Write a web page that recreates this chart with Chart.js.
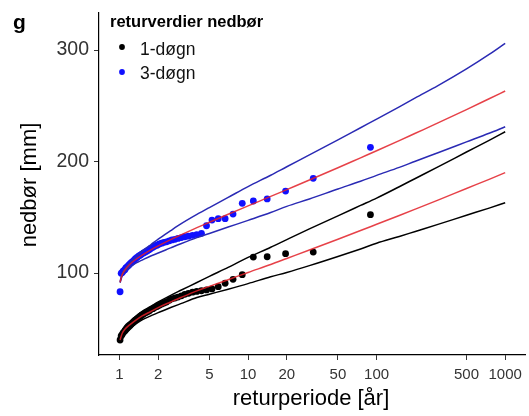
<!DOCTYPE html>
<html>
<head>
<meta charset="utf-8">
<script src="https://cdn.jsdelivr.net/npm/chart.js@4.4.1/dist/chart.umd.min.js"></script>
<style>
  html, body { margin: 0; padding: 0; background: #fff; }
  #wrap { width: 529px; height: 416px; }
</style>
</head>
<body>
<div id="wrap"><canvas id="c" width="529" height="416"></canvas></div>
<script>
// ---- data ----
const panelLabel = 'g';
const legendTitle = 'returverdier nedbør';
const seriesNames = ['1-døgn', '3-døgn'];
const xTitle = 'returperiode [år]';
const yTitle = 'nedbør [mm]';
const xTicks = [1, 2, 5, 10, 20, 50, 100, 500, 1000];
const yTicks = [100, 200, 300];

// return periods of the observed values (plotting positions)
const returnPeriods = [1.01,1.03,1.05,1.07,1.10,1.12,1.15,1.18,1.21,1.24,1.27,1.30,1.33,1.37,1.41,1.45,1.49,1.54,1.59,1.64,1.70,1.75,1.82,1.89,1.96,2.04,2.13,2.22,2.32,2.44,2.56,2.70,2.85,3.03,3.22,3.44,3.70,3.99,4.34,4.75,5.24,5.86,6.63,7.64,9.01,10.99,14.08,19.58,32.13,89.50];
const obs1dogn = [39.9,43.5,45.0,46.6,48.0,49.2,50.5,51.8,53.0,54.3,55.4,56.5,57.8,58.9,60.0,61.0,62.1,63.2,64.3,65.0,66.0,67.2,68.0,69.2,70.0,71.0,72.2,73.1,74.0,75.6,76.8,77.6,78.4,79.5,80.9,81.8,82.8,83.5,84.1,84.8,85.7,87.7,90.8,94.3,98.5,114.3,114.6,117.3,118.8,152.3];
const obs3dogn = [83.2,99.7,100.5,101.8,103.0,104.5,105.8,107.0,108.3,109.5,110.5,111.5,112.8,114.0,115.2,116.0,117.0,118.0,118.9,119.8,120.8,122.0,123.0,124.2,125.0,126.0,126.8,127.5,128.0,128.9,129.7,130.2,131.0,131.8,132.5,133.0,133.8,134.5,135.6,142.4,147.5,148.7,148.7,152.9,162.5,164.6,166.4,173.5,184.9,212.7];

// fitted return-value curves and their confidence bands
const curveT = [1.01,1.05,1.1,1.2,1.35,1.5,1.75,2,2.5,3,4,5,7,10,15,20,30,50,75,100,150,200,300,500,750,1000];
const fit1 = [40,46,49.5,53.5,58,61.5,65.5,69,74,78,84,88,94,100.5,107.6,113.0,120.6,130.3,138.1,143.7,151.6,157.3,165.4,175.8,184.0,190.0];
const upper1 = [42,48.5,52.5,56.5,61.5,65.5,70,74,80,84.5,91.5,97,105,114,123.1,130,139.6,151.3,160.6,167.2,177.4,184.8,195.2,208.5,219,226.7];
const lower1 = [38,43.5,46.5,50.5,54.5,58,61.5,64.5,69,72.5,78,81,85.5,90.5,96.6,100.5,106.6,114.8,121.6,126.7,132.8,137.3,143.6,151.8,158.2,163];
const fit3 = [91.7,98.6,102.6,107.6,112.5,116.1,120.8,124.4,130.0,134.2,140.7,145.5,152.7,160.2,168.7,174.8,183.4,194.4,203.3,209.6,218.7,225.3,234.6,246.6,256.3,263.2];
const upper3 = [92.2,99.6,103.8,109.1,115,119.6,125.3,130.4,138.0,144.0,152.5,158.7,167.8,177.5,187.7,195.3,205.9,219.4,230.3,238,249,257,268,283,296,306];
const lower3 = [91.2,97.6,101.1,105.1,109,111.6,115.3,117.9,122.5,126.2,131.7,135.5,141.2,147.2,154.2,159.8,166.4,175.4,182.3,187.6,194.7,200.3,207.9,217.6,225.3,231.2];

// ---- styling ----
const FONT = '"Liberation Sans", Arial, Helvetica, sans-serif';
const RED = 'rgba(226,32,40,0.85)';
const BLUE_LINE = '#2a2ab4';
const BLUE_PT = '#1010ff';
const BLACK = '#000000';

function pts(xs, ys) { return xs.map((x, i) => ({ x: x, y: ys[i] })); }
function lineDs(label, ys, color, order) {
  return { type: 'line', label: label, data: pts(curveT, ys), borderColor: color, borderWidth: 1.5,
           pointRadius: 0, fill: false, showLine: true, order: order, cubicInterpolationMode: 'monotone' };
}

const textPlugin = {
  id: 'texts',
  afterDraw(chart) {
    const c = chart.ctx;
    c.save();
    c.fillStyle = '#000';
    c.textAlign = 'left';
    c.textBaseline = 'alphabetic';
    c.font = 'bold 21px ' + FONT;
    c.fillText(panelLabel, 13, 29);
    c.font = 'bold 16.5px ' + FONT;
    c.fillText(legendTitle, 110, 27);
    c.font = '17.5px ' + FONT;
    c.fillStyle = '#111';
    c.fillText(seriesNames[0], 140, 55);
    c.fillText(seriesNames[1], 140, 79);
    c.beginPath(); c.fillStyle = BLACK; c.arc(122, 47, 2.9, 0, Math.PI * 2); c.fill();
    c.beginPath(); c.fillStyle = BLUE_PT; c.arc(122, 72, 2.9, 0, Math.PI * 2); c.fill();
    // axis titles
    c.fillStyle = '#000';
    c.font = '22px ' + FONT;
    c.textAlign = 'center';
    c.textBaseline = 'middle';
    c.fillText(xTitle, 311, 399);
    c.translate(30, 185);
    c.rotate(-Math.PI / 2);
    c.fillText(yTitle, 0, 0);
    c.restore();
  }
};

new Chart(document.getElementById('c'), {
  type: 'scatter',
  data: {
    datasets: [
      lineDs('fit 1-døgn', fit1, RED, 0),
      lineDs('fit 3-døgn', fit3, RED, 0),
      lineDs('upper 1-døgn', upper1, BLACK, 1),
      lineDs('lower 1-døgn', lower1, BLACK, 1),
      lineDs('upper 3-døgn', upper3, BLUE_LINE, 1),
      lineDs('lower 3-døgn', lower3, BLUE_LINE, 1),
      { label: seriesNames[0], data: pts(returnPeriods, obs1dogn), backgroundColor: BLACK, borderWidth: 0, pointRadius: 3.4, showLine: false, order: 2 },
      { label: seriesNames[1], data: pts(returnPeriods, obs3dogn), backgroundColor: BLUE_PT, borderWidth: 0, pointRadius: 3.4, showLine: false, order: 2 }
    ]
  },
  options: {
    responsive: false,
    animation: false,
    devicePixelRatio: 1,
    layout: { padding: { top: 13, left: 0, right: 0, bottom: 0 } },
    plugins: { legend: { display: false }, tooltip: { enabled: false }, title: { display: false } },
    scales: {
      x: {
        type: 'logarithmic',
        min: 0.6925,
        max: 1426,
        afterBuildTicks: s => { s.ticks = xTicks.map(v => ({ value: v })); },
        afterFit: s => { s.height = 61; s.paddingLeft = 0; s.paddingRight = 0; },
        ticks: { autoSkip: false, maxRotation: 0, minRotation: 0, padding: 6, color: '#333',
                 font: { size: 15, family: FONT }, callback: v => String(v) },
        grid: { drawOnChartArea: false, drawTicks: true, tickLength: 5, color: '#333', lineWidth: 1 },
        border: { display: true, color: '#000', width: 1.2 }
      },
      y: {
        type: 'linear',
        min: 26.46,
        max: 333.2,
        afterBuildTicks: s => { s.ticks = yTicks.map(v => ({ value: v })); },
        afterFit: s => { s.width = 99; s.paddingTop = 0; s.paddingBottom = 0; },
        ticks: { padding: 5, color: '#333', font: { size: 19.5, family: FONT }, callback: v => String(v) },
        grid: { drawOnChartArea: false, drawTicks: true, tickLength: 5, color: '#333', lineWidth: 1 },
        border: { display: true, color: '#000', width: 1.2 }
      }
    }
  },
  plugins: [textPlugin]
});
</script>
</body>
</html>
